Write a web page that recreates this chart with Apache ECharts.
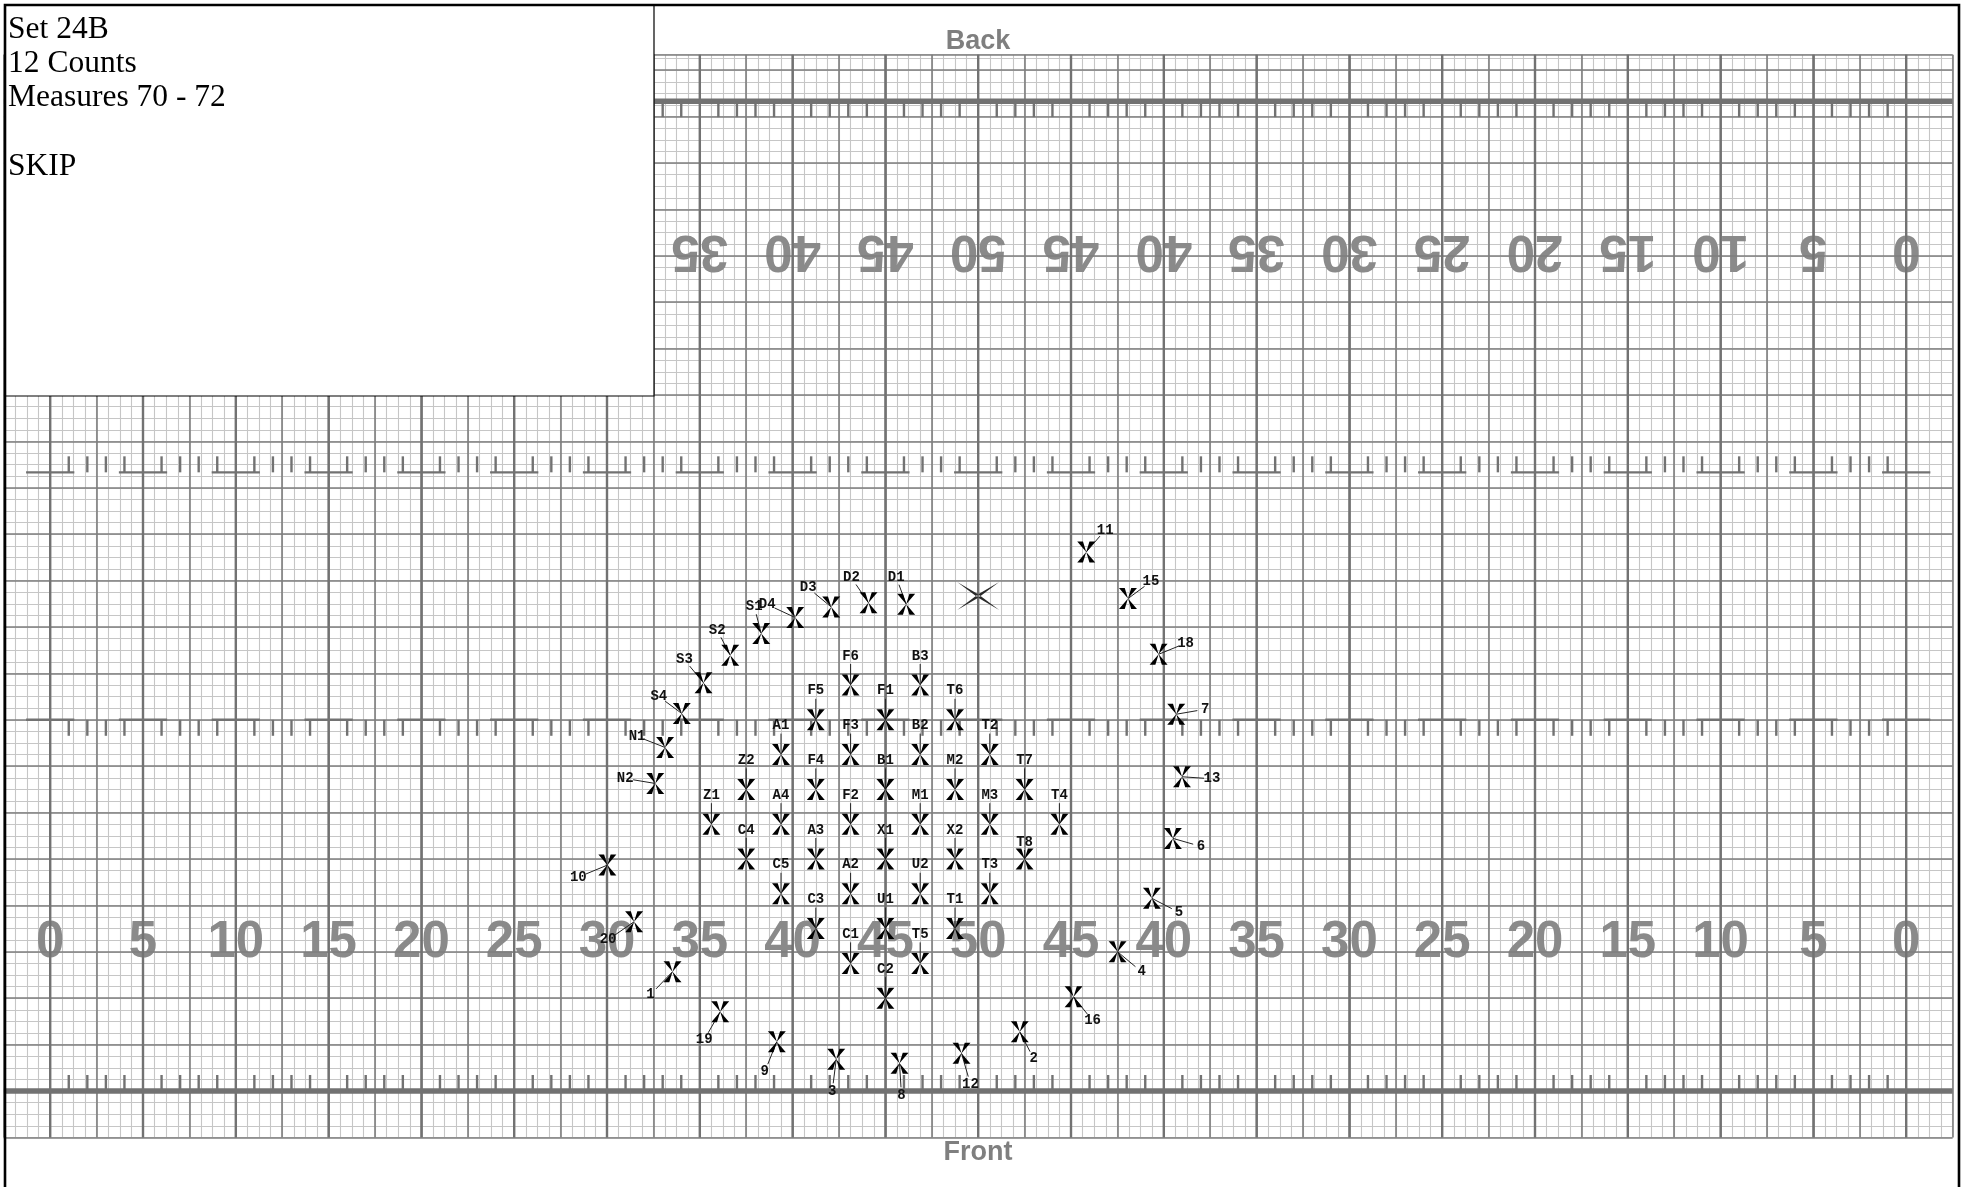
<!DOCTYPE html>
<html>
<head>
<meta charset="utf-8">
<title>Set 24B</title>
<script src="https://cdn.jsdelivr.net/npm/echarts@6.0.0/dist/echarts.min.js"></script>
<style>
  html, body { margin: 0; padding: 0; background: #fff; }
  #drill-chart { width: 1969px; height: 1187px; }
</style>
</head>
<body>
<div id="drill-chart"></div>
<script>
// field coordinates are in yards: x from the left goal line, y from the front sideline
const yardLines = [0, 5, 10, 15, 20, 25, 30, 35, 40, 45, 50, 55, 60, 65, 70, 75, 80, 85, 90, 95, 100];
const yardNumbers = ['0', '5', '10', '15', '20', '25', '30', '35', '40', '45', '50',
                     '45', '40', '35', '30', '25', '20', '15', '10', '5', '0'];

// block of lettered marchers
const blockNames = ['Z1', 'Z2', 'C4', 'A1', 'A4', 'C5', 'F5', 'F4', 'A3', 'C3',
                    'F6', 'F3', 'F2', 'A2', 'C1', 'F1', 'B1', 'X1', 'U1', 'C2',
                    'B3', 'B2', 'M1', 'U2', 'T5', 'T6', 'M2', 'X2', 'T1', 'T2',
                    'M3', 'T3', 'T7', 'T8', 'T4'];
const blockX = [35.625, 37.5, 37.5, 39.375, 39.375, 39.375, 41.25, 41.25, 41.25, 41.25,
                43.125, 43.125, 43.125, 43.125, 43.125, 45, 45, 45, 45, 45,
                46.875, 46.875, 46.875, 46.875, 46.875, 48.75, 48.75, 48.75, 48.75, 50.625,
                50.625, 50.625, 52.5, 52.5, 54.375];
const blockY = [14.375, 16.25, 12.5, 18.125, 14.375, 10.625, 20, 16.25, 12.5, 8.75,
                21.875, 18.125, 14.375, 10.625, 6.875, 20, 16.25, 12.5, 8.75, 5,
                21.875, 18.125, 14.375, 10.625, 6.875, 20, 16.25, 12.5, 8.75, 18.125,
                14.375, 10.625, 16.25, 12.5, 14.375];

// arc of D / S / N marchers
const arcNames = ['D1', 'D2', 'D3', 'D4', 'S1', 'S2', 'S3', 'S4', 'N1', 'N2'];
const arcX = [46.12, 44.09, 42.08, 40.14, 38.31, 36.64, 35.20, 34.03, 33.13, 32.60];
const arcY = [26.23, 26.30, 26.08, 25.51, 24.65, 23.48, 21.99, 20.34, 18.51, 16.57];

// ring of numbered marchers
const ringNames = ['11', '15', '18', '7', '13', '6', '5', '4', '16', '2',
                   '12', '8', '3', '9', '19', '1', '20', '10'];
const ringX = [55.82, 58.07, 59.72, 60.67, 60.98, 60.49, 59.36, 57.51, 55.14, 52.24,
               49.10, 45.76, 42.35, 39.15, 36.10, 33.53, 31.46, 30.02];
const ringY = [29.04, 26.53, 23.53, 20.30, 16.93, 13.61, 10.38, 7.50, 5.08, 3.19,
               2.03, 1.49, 1.71, 2.66, 4.27, 6.43, 9.12, 12.17];

// center of field reference mark
const centerX = [50];
const centerY = [26.67];

// where each name tag sits relative to its mark (pixels)
const arcLabelOffsets = [[-10, -27], [-17, -25], [-23, -19], [-28, -13], [-7, -27],
                         [-13, -25], [-19, -23], [-23, -17], [-28, -11], [-30, -5]];
const ringLabelOffsets = [[19, -22], [23, -17], [27, -11], [29, -5], [30, 2], [28, 8],
                          [27, 14], [24, 20], [19, 24], [14, 27], [9, 31], [2, 32],
                          [-4, 32], [-12, 30], [-16, 28], [-22, 23], [-26, 18], [-29, 12]];
const blockLabelNudge = { T8: [0, -17] };

const FIELD_DEPTH = 160 / 3;
const FRONT_HASH = 20;
const BACK_HASH = FIELD_DEPTH - 20;
const PX = 18.56; // pixels per yard
const MARK = '#727272';

// marcher "X": four wedges, heavy at the tips, meeting at the spot
const X_PATH = 'M0 0 L32 0 L50 70 Z M68 0 L100 0 L50 70 Z M0 140 L32 140 L50 70 Z M68 140 L100 140 L50 70 Z';
const BIG_X_PATH = 'M0 4 L50 31 L100 66 L50 39 Z M100 4 L50 31 L0 66 L50 39 Z';

const chartDom = document.getElementById('drill-chart');
const myChart = echarts.init(chartDom);

const hiddenAxis = {
  type: 'value', gridIndex: 0,
  axisLine: { show: false }, axisTick: { show: false }, axisLabel: { show: false }
};
function xAxisLayer(interval, color, width, z) {
  return Object.assign({}, hiddenAxis, {
    z: z, min: -2.5, max: 102.5, interval: interval,
    splitLine: { show: true, lineStyle: { color: color, width: width } }
  });
}
function yAxisLayer(interval, color, width, z) {
  return Object.assign({}, hiddenAxis, {
    z: z, min: -2.5, max: FIELD_DEPTH + 2.5, interval: interval,
    splitLine: { show: true, lineStyle: { color: color, width: width } }
  });
}

// 5 yard lines, sidelines, hashes and the one-yard ticks
function renderFieldMarks(params, api) {
  const L = api.value(0);
  const kids = [];
  const seg = (a, b, w) => kids.push({
    type: 'line', shape: { x1: a[0], y1: a[1], x2: b[0], y2: b[1] },
    style: { stroke: MARK, lineWidth: w }
  });
  const tick = (x, y, dir) => {
    const p = api.coord([x, y]);
    seg(p, [p[0], p[1] + dir * 16], 2.4);
  };
  seg(api.coord([L, -2.5]), api.coord([L, FIELD_DEPTH + 2.5]), 2.4);
  [FRONT_HASH, BACK_HASH].forEach(h => seg(api.coord([L - 1.3, h]), api.coord([L + 1.3, h]), 2.4));
  if (L < 100) {
    for (let k = 1; k < 5; k++) {
      tick(L + k, 0, -1);
      tick(L + k, FIELD_DEPTH, 1);
      tick(L + k, FRONT_HASH, 1);
      tick(L + k, BACK_HASH, -1);
    }
  }
  if (params.dataIndex === 0) {
    seg(api.coord([-2.5, 0]), api.coord([102.5, 0]), 5.5);
    seg(api.coord([-2.5, FIELD_DEPTH]), api.coord([102.5, FIELD_DEPTH]), 5.5);
  }
  return { type: 'group', children: kids };
}

function renderYardNumber(params, api) {
  const text = yardNumbers[params.dataIndex];
  const font = 'bold 51px "Liberation Sans", Arial, sans-serif';
  const front = api.coord([api.value(0), 8]);
  const back = api.coord([api.value(0), FIELD_DEPTH - 8]);
  return {
    type: 'group',
    children: [
      { type: 'text', x: front[0], y: front[1],
        style: { x: 0, y: 0, text: text, font: font, fill: '#8a8a8a', align: 'center', verticalAlign: 'middle' } },
      { type: 'text', x: back[0], y: back[1], rotation: Math.PI,
        style: { x: 0, y: 0, text: text, font: font, fill: '#8a8a8a', align: 'center', verticalAlign: 'middle' } }
    ]
  };
}

function marcherSeries(names, xs, ys, offsetOf) {
  return {
    type: 'custom',
    coordinateSystem: 'cartesian2d',
    z: 5,
    silent: true,
    data: xs.map((x, i) => [x, ys[i]]),
    renderItem: function (params, api) {
      const p = api.coord([api.value(0), api.value(1)]);
      const name = names[params.dataIndex];
      const off = offsetOf(params.dataIndex, name);
      const len = Math.hypot(off[0], off[1]);
      const k = (len - 8) / len;
      return {
        type: 'group',
        children: [
          { type: 'line', shape: { x1: p[0], y1: p[1], x2: p[0] + off[0] * k, y2: p[1] + off[1] * k },
            style: { stroke: '#222', lineWidth: 1 } },
          { type: 'path', shape: { pathData: X_PATH, x: p[0] - 9, y: p[1] - 10.5, width: 18, height: 21, layout: 'cover' },
            style: { fill: '#000' } },
          { type: 'text',
            style: { x: p[0] + off[0], y: p[1] + off[1], text: name, align: 'center', verticalAlign: 'middle',
                     font: 'bold 14px "Liberation Mono", "Courier New", monospace', fill: '#111' } }
        ]
      };
    }
  };
}

const serifFont = '31.5px "Liberation Serif", "Times New Roman", serif';
const headFont = 'bold 27px "Liberation Sans", Arial, sans-serif';

let option = {
  animation: false,
  grid: { left: 50.2 - 2.5 * PX, top: 1091 - (FIELD_DEPTH + 2.5) * PX, width: 105 * PX, height: (FIELD_DEPTH + 5) * PX },
  xAxis: [
    xAxisLayer(0.625, '#c6c6c6', 1.1, 0),
    xAxisLayer(2.5, '#7e7e7e', 1.6, 2)
  ],
  yAxis: [
    yAxisLayer(0.625, '#c6c6c6', 1.1, 0),
    yAxisLayer(2.5, '#7e7e7e', 1.6, 2)
  ],
  series: [
    {
      type: 'custom', coordinateSystem: 'cartesian2d', z: 1, silent: true,
      data: yardLines.map(v => [v]),
      renderItem: renderYardNumber
    },
    {
      type: 'custom', coordinateSystem: 'cartesian2d', z: 3, silent: true,
      data: yardLines.map(v => [v]),
      renderItem: renderFieldMarks
    },
    marcherSeries(blockNames, blockX, blockY, (i, name) => blockLabelNudge[name] || [0, -29]),
    marcherSeries(arcNames, arcX, arcY, i => arcLabelOffsets[i]),
    marcherSeries(ringNames, ringX, ringY, i => ringLabelOffsets[i]),
    {
      type: 'custom', coordinateSystem: 'cartesian2d', z: 5, silent: true,
      data: centerX.map((x, i) => [x, centerY[i]]),
      renderItem: function (params, api) {
        const p = api.coord([api.value(0), api.value(1)]);
        return { type: 'path', shape: { pathData: BIG_X_PATH, x: p[0] - 21, y: p[1] - 14, width: 42, height: 28, layout: 'cover' },
                 style: { fill: '#2a2a2a' } };
      }
    }
  ],
  graphic: [
    { type: 'rect', z: 100, shape: { x: 5, y: 5, width: 649, height: 391 },
      style: { fill: '#fff', stroke: '#000', lineWidth: 1.2 } },
    { type: 'text', z: 101, x: 8, y: 30, style: { text: 'Set 24B', font: serifFont, fill: '#000', verticalAlign: 'middle' } },
    { type: 'text', z: 101, x: 8, y: 64, style: { text: '12 Counts', font: serifFont, fill: '#000', verticalAlign: 'middle' } },
    { type: 'text', z: 101, x: 8, y: 98, style: { text: 'Measures 70 - 72', font: serifFont, fill: '#000', verticalAlign: 'middle' } },
    { type: 'text', z: 101, x: 8, y: 167, style: { text: 'SKIP', font: serifFont, fill: '#000', verticalAlign: 'middle' } },
    { type: 'text', z: 101, x: 978, y: 41.5, style: { text: 'Back', font: headFont, fill: '#7f7f7f', align: 'center', verticalAlign: 'middle' } },
    { type: 'text', z: 101, x: 978, y: 1153, style: { text: 'Front', font: headFont, fill: '#7f7f7f', align: 'center', verticalAlign: 'middle' } },
    { type: 'rect', z: 102, shape: { x: 5, y: 5, width: 1954, height: 1200 },
      style: { fill: 'none', stroke: '#000', lineWidth: 2.6 } }
  ]
};

myChart.setOption(option);
</script>
</body>
</html>
